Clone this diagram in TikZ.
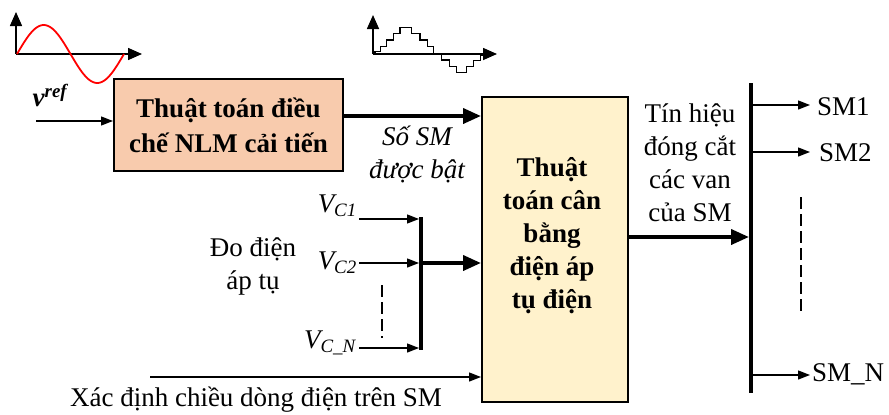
\documentclass[tikz,border=0pt]{standalone}
\usepackage{fontspec}
\setmainfont{LiberationSerif}[Extension=.ttf, UprightFont=*-Regular, BoldFont=*-Bold,
  ItalicFont=*-Italic, BoldItalicFont=*-BoldItalic]
\usetikzlibrary{arrows.meta,positioning}

\definecolor{nlmfill}{HTML}{F8CBAD}
\definecolor{balfill}{HTML}{FFF2CC}
\newcommand{\cochu}{\fontsize{27}{33}\selectfont}

\tikzset{
  nlmkhoi/.style={draw, line width=2pt, fill=nlmfill, minimum width=229pt, minimum height=92pt,
    inner sep=0pt, align=center, font=\fontsize{27}{35}\selectfont\bfseries},
  balkhoi/.style={draw, line width=2pt, fill=balfill, minimum width=146pt, minimum height=305pt, inner sep=0pt},
  chu/.style={align=center, font=\cochu, inner sep=0pt},
  chudam/.style={chu, font=\cochu\bfseries},
  mong/.style={line width=1.3pt, -{Triangle[length=12pt,width=9pt]}},
  day/.style={line width=3.8pt, -{Triangle[length=18pt,width=15pt]}},
  thanh/.style={line width=4.5pt},
  truc/.style={line width=1.6pt, -{Triangle[length=14pt,width=12pt]}},
  netdut/.style={line width=1.3pt, dash pattern=on 12pt off 5pt},
}

\begin{document}
\begin{tikzpicture}[x=1pt, y=-1pt]
    \useasboundingbox (0,0) rectangle (889,415);

    % 正弦参考波
    \draw[truc] (16,54) -- (16,12);
    \draw[truc] (16,54) -- (142,54);
    \draw[red, line width=1.8pt, domain=0:107, samples=60] plot ({17+\x}, {54 - 29*sin(\x/107*360)});

    % 阶梯波
    \draw[truc] (373,54) -- (373,15);
    \draw[truc] (373,54) -- (497,54);
    \draw[line width=1.3pt] (375,53.3) |- (380.7,51.7) |- (386.7,46.7) |- (393.3,40) |- (400,33.3)
        |- (411.7,27.3) |- (420,33.3) |- (427.3,40) |- (433.3,46.7) |- (441.7,53.3) |- (449.3,60)
        |- (456.7,66.7) |- (466.7,72.7) |- (473.3,66.7) |- (480.7,60.7) |- (486.7,55);

    % 方框
    \node[nlmkhoi] (nlm) at (228.5,125) {Thuật toán điều\\chế NLM cải tiến};
    \node[balkhoi] (balbox) at (555,249.5) {};
    \node[chudam] (baltxt) at (552,236) {Thuật\\toán cân\\bằng\\điện áp\\tụ điện};

    % 输入
    \node[chu, font=\cochu\bfseries\itshape] (vref) at (50,95) {v\textsuperscript{ref}};
    \coordinate (vin) at (36,121);
    \draw[mong] (vin) -- (vin -| nlm.west);
    \coordinate (nout) at ([yshift=9pt]nlm.east);
    \draw[day] (nout) -- (nout -| balbox.west);
    \node[chu, font=\cochu\itshape] (soSM) at (417,154) {Số SM\\được bật};

    % 电容电压
    \coordinate (bus1) at (421,217);
    \coordinate (bus2) at (421,350);
    \draw[thanh] (bus1) -- (bus2);
    \node[chu, anchor=east, font=\cochu\itshape] (vc1) at (357,206) {V\textsubscript{C1}};
    \node[chu, anchor=east, font=\cochu\itshape] (vc2) at (357,263) {V\textsubscript{C2}};
    \node[chu, anchor=east, font=\cochu\itshape] (vcn) at (356,343) {V\textsubscript{C\_N}};
    \foreach \c/\y in {a1/219, a2/263, an/348} {
        \coordinate (\c) at (359,\y);
        \draw[mong, shorten >=2pt] (\c) -- (\c -| bus1);
    }
    \draw[netdut] (382,285) -- (382,338);
    \draw[day] (a2 -| bus1) -- (a2 -| balbox.west);
    \node[chu] (doDA) at (253,266) {Đo điện\\áp tụ};

    % 电流方向
    \coordinate (ibot) at (150,377);
    \draw[mong] (ibot) -- (ibot -| balbox.west);
    \node[chu] (xacdinh) at (256,400) {Xác định chiều dòng điện trên SM};

    % 输出
    \coordinate (bar1) at (751,83);
    \coordinate (bar2) at (751,393);
    \draw[thanh] (bar1) -- (bar2);
    \coordinate (ra) at ([yshift=12.5pt]balbox.east);
    \draw[day, shorten >=2pt] (ra) -- (ra -| bar1);
    \node[chu] (tinhieu) at (690,163) {Tín hiệu\\đóng cắt\\các van\\của SM};

    \node[chu, anchor=west] (sm1) at (817,107) {SM1};
    \node[chu, anchor=west] (sm2) at (819,153) {SM2};
    \node[chu, anchor=west] (smn) at (812,374) {SM\_N};
    \foreach \s/\y/\g in {sm1/105/7, sm2/152/9, smn/375/2} {
        \coordinate (s\s) at (751,\y);
        \draw[mong, shorten >=\g pt] (s\s) -- (s\s -| \s.west);
    }
    \draw[netdut] (801,197) -- (801,313);
\end{tikzpicture}
\end{document}
